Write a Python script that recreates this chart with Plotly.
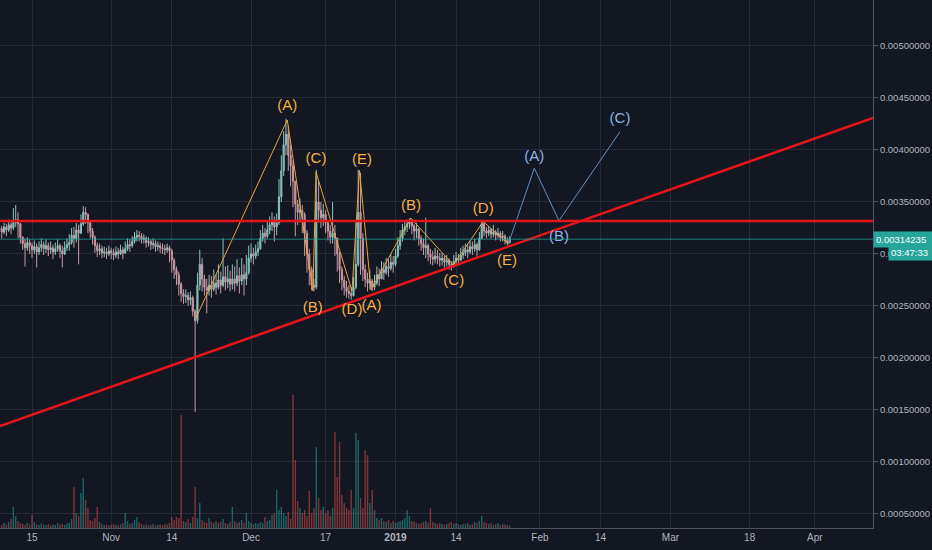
import pandas as pd
import plotly.graph_objects as go

# 12h candles, prices in units of 1e-6 BTC
candle_start = "2018-10-08 00:00"
first_open = 3250

closes = [
    3240, 3210, 3260, 3230, 3280, 3250, 3300, 3330, 3290, 3160,
    3100, 3060, 3110, 3080, 3040, 3070, 3020, 3060, 3090, 3050,
    3080, 3040, 3060, 3020, 3050, 3080, 3030, 3000, 3060, 3090,
    3110, 3180, 3150, 3230, 3200, 3290, 3400, 3380, 3300, 3220,
    3160, 3080, 3030, 3050, 3010, 3020, 3000, 3030, 3010, 2990,
    3020, 3000, 3040, 3010, 3050, 3090, 3080, 3120, 3160, 3180,
    3170, 3140, 3150, 3110, 3120, 3090, 3100, 3070, 3080, 3060,
    3050, 3040, 3060, 3030, 2940, 2850, 2800, 2710, 2620, 2590,
    2600, 2560, 2580, 2450, 2360, 2700, 2900, 2760, 2680, 2650,
    2700, 2660, 2720, 2680, 2750, 2700, 2780, 2730, 2760, 2710,
    2760, 2720, 2790, 2740, 2800, 2760, 2820, 2960, 3000, 2980,
    3020, 3050, 3150, 3200, 3170, 3230, 3280, 3320, 3260, 3300,
    3550, 3800, 4050, 4150, 3950, 3850, 3700, 3480, 3400, 3420,
    3380, 3200, 3000, 2850, 2700, 2680, 3500, 3420, 3350, 3380,
    3300, 3220, 3160, 3200, 3150, 3000, 2850, 2750, 2680, 2640,
    2620, 2600, 2680, 2900, 3400, 3150, 2850, 2760, 2720, 2740,
    2680, 2720, 2800, 2760, 2850, 2820, 2880, 2860, 2920, 2900,
    2980, 3080, 3150, 3230, 3260, 3290, 3310, 3270, 3220, 3240,
    3150, 3100, 3060, 3080, 3000, 2970, 2950, 2980, 2960, 2940,
    2960, 2920, 2940, 2900, 2880, 2930, 2960, 2940, 2990, 3010,
    3040, 3020, 3070, 3050, 3090, 3040, 3150, 3290, 3220, 3200,
    3230, 3190, 3210, 3180, 3200, 3160, 3170, 3130, 3110, 3142.35,
]
highs = [
    3290, 3270, 3300, 3290, 3330, 3310, 3440, 3470, 3400, 3300,
    3170, 3150, 3160, 3140, 3110, 3130, 3100, 3120, 3150, 3120,
    3140, 3110, 3120, 3090, 3110, 3140, 3100, 3080, 3120, 3150,
    3190, 3250, 3260, 3300, 3280, 3380, 3460, 3450, 3390, 3310,
    3250, 3180, 3110, 3100, 3080, 3070, 3060, 3080, 3060, 3050,
    3070, 3060, 3090, 3070, 3120, 3150, 3140, 3170, 3210, 3230,
    3220, 3200, 3190, 3170, 3160, 3140, 3150, 3130, 3120, 3110,
    3100, 3090, 3100, 3080, 3050, 2960, 2880, 2830, 2730, 2660,
    2660, 2630, 2640, 2600, 2470, 2820, 3040, 2960, 2800, 2760,
    2800, 2790, 2850, 2800, 2900, 2830, 3150, 2880, 2890, 2840,
    2900, 2880, 2950, 2870, 2960, 2900, 2990, 3080, 3100, 3060,
    3090, 3120, 3230, 3280, 3250, 3310, 3360, 3400, 3360, 3390,
    3720, 3950, 4180, 4300, 4230, 4050, 3900, 3700, 3520, 3530,
    3470, 3400, 3230, 3050, 2880, 2760, 3810, 3700, 3500, 3480,
    3420, 3310, 3280, 3500, 3280, 3160, 3020, 2880, 2790, 2740,
    2700, 2680, 2780, 3300, 3810, 3780, 3200, 2900, 2820, 2850,
    2760, 2800, 2880, 2860, 2930, 2920, 2960, 2950, 3000, 2980,
    3050, 3160, 3230, 3290, 3320, 3330, 3340, 3330, 3290, 3300,
    3250, 3180, 3150, 3350, 3100, 3050, 3030, 3060, 3040, 3010,
    3010, 2980, 2990, 2960, 2930, 2990, 3020, 3000, 3060, 3080,
    3100, 3090, 3130, 3120, 3150, 3110, 3210, 3320, 3310, 3260,
    3270, 3250, 3280, 3230, 3250, 3220, 3220, 3190, 3160, 3170,
]
lows = [
    3180, 3150, 3190, 3170, 3210, 3190, 3230, 3260, 3150, 3100,
    3040, 2880, 3030, 3000, 2960, 3000, 2870, 2990, 3020, 2990,
    3010, 2980, 3000, 2950, 2990, 3020, 2960, 2870, 2990, 3030,
    3030, 3090, 3060, 3110, 2900, 3190, 3270, 3290, 3200, 3150,
    3090, 3010, 2970, 2990, 2960, 2970, 2950, 2980, 2950, 2940,
    2960, 2950, 2990, 2950, 3000, 3030, 3020, 3060, 3100, 3120,
    3120, 3100, 3100, 3060, 3070, 3040, 3050, 3020, 3030, 3010,
    3000, 2990, 3010, 2920, 2820, 2760, 2700, 2600, 2540, 2520,
    2530, 2500, 2510, 2400, 1480, 2330, 2650, 2640, 2600, 2430,
    2600, 2580, 2640, 2610, 2660, 2620, 2680, 2650, 2670, 2640,
    2660, 2640, 2690, 2620, 2700, 2600, 2700, 2800, 2920, 2900,
    2950, 2980, 3040, 3120, 3100, 3150, 3190, 3220, 3120, 3180,
    3280, 3500, 3750, 3950, 3800, 3650, 3450, 3170, 3280, 3300,
    3200, 2980, 2820, 2700, 2650, 2640, 2660, 3300, 3250, 3270,
    3200, 3130, 3100, 3100, 2980, 2830, 2720, 2650, 2600, 2580,
    2570, 2560, 2590, 2660, 2880, 2800, 2740, 2680, 2640, 2660,
    2640, 2650, 2700, 2690, 2760, 2750, 2800, 2780, 2840, 2820,
    2880, 2960, 3040, 3120, 3180, 3210, 3240, 3190, 3130, 3150,
    3080, 3030, 2990, 2960, 2930, 2900, 2890, 2910, 2900, 2880,
    2890, 2870, 2880, 2850, 2840, 2870, 2900, 2890, 2930, 2950,
    2980, 2960, 3000, 2990, 3020, 2970, 3030, 3140, 3170, 3150,
    3170, 3150, 3160, 3130, 3150, 3120, 3120, 3090, 3080, 3100,
]
volumes = [
    40, 30, 50, 35, 60, 90, 210, 120, 70, 50,
    40, 30, 50, 35, 130, 60, 40, 30, 45, 35,
    30, 40, 25, 35, 30, 50, 35, 40, 30, 45,
    50, 90, 410, 150, 120, 350, 500, 280, 200, 80,
    70, 100, 210, 60, 40, 30, 35, 25, 30, 40,
    30, 25, 35, 50, 150, 70, 40, 50, 80, 110,
    60, 40, 30, 35, 25, 30, 40, 25, 30, 35,
    30, 40, 35, 50, 110, 80, 110, 100, 1130, 70,
    60, 90, 50, 110, 410, 100, 250, 80, 60, 50,
    100, 60, 50, 70, 50, 60, 90, 50, 40, 60,
    210, 70, 50, 60, 80, 50, 150, 70, 50, 40,
    50, 40, 60, 50, 110, 70, 80, 130, 150, 380,
    180, 210, 150, 120, 160, 90, 1330, 680, 270, 200,
    150, 180, 120, 370, 150, 200, 810, 300, 180, 210,
    150, 180, 120, 200, 960, 510, 860, 330, 250, 200,
    180, 380, 200, 950, 880, 300, 200, 780, 730, 250,
    380, 180, 100, 80, 100, 70, 60, 80, 50, 70,
    50, 60, 70, 80, 100, 180, 120, 70, 60, 50,
    40, 50, 60, 70, 50, 200, 60, 50, 40, 50,
    40, 30, 40, 50, 60, 40, 50, 40, 30, 40,
    40, 50, 30, 40, 60, 50, 70, 120, 60, 50,
    40, 50, 30, 40, 50, 30, 40, 35, 30, 25,
]

# drawings (prices in 1e-6 BTC)
resistance_level = 3317
last_price = 3142.35
trend_dates = ["2018-10-08 03:00", "2019-04-13 11:00"]
trend_prices = [1346, 4308]

wave_dates = ["2018-11-19 04:30", "2018-12-08 18:45", "2018-12-14 07:00", "2018-12-14 22:30",
              "2018-12-22 16:00", "2018-12-24 06:45", "2018-12-26 17:45", "2019-01-04 06:15",
              "2019-01-13 09:40", "2019-01-19 20:10", "2019-01-25 05:00"]
wave_prices = [2385, 4288, 2644, 3788, 2644, 3803, 2654, 3346, 2894, 3311, 3096]
wave_labels = ["(A)", "(C)", "(E)", "(B)", "(D)", "(A)", "(B)", "(D)", "(C)", "(E)"]
wave_label_dates = ["2018-12-08 18:45", "2018-12-14 22:30", "2018-12-24 19:00", "2018-12-14 06:00",
                    "2018-12-22 16:00", "2018-12-26 20:00", "2019-01-04 08:00", "2019-01-19 20:10",
                    "2019-01-13 12:00", "2019-01-24 22:00"]
wave_label_prices = [4416, 3914, 3904, 2478, 2462, 2493, 3455, 3430, 2734, 2926]

proj_dates = ["2019-01-25 05:00", "2019-01-30 19:00", "2019-02-05 02:00", "2019-02-18 04:20"]
proj_prices = [3096, 3824, 3320, 4176]
proj_labels = ["(A)", "(B)", "(C)"]
proj_label_dates = ["2019-01-30 19:00", "2019-02-05 02:00", "2019-02-18 04:20"]
proj_label_prices = [3930, 3157, 4298]

x_tick_dates = ["2018-10-15", "2018-11-01", "2018-11-14", "2018-12-01", "2018-12-17", "2019-01-01",
                "2019-01-14", "2019-02-01", "2019-02-14", "2019-03-01", "2019-03-18", "2019-04-01"]
x_tick_text = ["15", "Nov", "14", "Dec", "17", "<b>2019</b>", "14", "Feb", "14", "Mar", "18", "Apr"]
y_tick_prices = [0.0005, 0.001, 0.0015, 0.002, 0.0025, 0.003, 0.0035, 0.004, 0.0045, 0.005]

U = 1e-6
BG = "#131722"
GRID = "#262a36"
TXT = "#b2b5be"
ORANGE = "#eea43a"
BLUE = "#5f8fc6"

times = pd.date_range(candle_start, periods=len(closes), freq="12h")
opens = [first_open] + closes[:-1]
o = [v * U for v in opens]
c = [v * U for v in closes]
h = [v * U for v in highs]
l = [v * U for v in lows]
vol_colors = ["rgba(38,166,154,0.55)" if cc >= oo else "rgba(239,83,80,0.5)"
              for oo, cc in zip(opens, closes)]

fig = go.Figure()

fig.add_trace(go.Bar(x=times, y=volumes, marker_color=vol_colors, marker_line_width=0,
                     yaxis="y2", width=12 * 3600 * 1000 * 0.6, hoverinfo="skip"))

fig.add_trace(go.Candlestick(
    x=times, open=o, high=h, low=l, close=c,
    increasing=dict(line=dict(color="#8cc2bb", width=1), fillcolor="#5fb3a6"),
    decreasing=dict(line=dict(color="#c99aa3", width=1), fillcolor="#d97a8b"),
    whiskerwidth=0,
))

fig.add_trace(go.Scatter(x=trend_dates, y=[v * U for v in trend_prices], mode="lines",
                         line=dict(color="#e8141c", width=2.5), hoverinfo="skip"))

fig.add_trace(go.Scatter(x=wave_dates, y=[v * U for v in wave_prices], mode="lines",
                         line=dict(color=ORANGE, width=1), hoverinfo="skip"))
fig.add_trace(go.Scatter(x=proj_dates, y=[v * U for v in proj_prices], mode="lines",
                         line=dict(color=BLUE, width=1), hoverinfo="skip"))

fig.add_trace(go.Scatter(x=wave_label_dates, y=[v * U for v in wave_label_prices], mode="text",
                         text=wave_labels, textposition="middle center",
                         textfont=dict(color="#f4b142", size=15, family="Liberation Sans"),
                         hoverinfo="skip"))
fig.add_trace(go.Scatter(x=proj_label_dates, y=[v * U for v in proj_label_prices], mode="text",
                         text=proj_labels, textposition="middle center",
                         textfont=dict(color="#8db3e2", size=15, family="Liberation Sans"),
                         hoverinfo="skip"))

# resistance and last-price lines
fig.add_shape(type="line", xref="paper", x0=0, x1=1, y0=resistance_level * U, y1=resistance_level * U,
              line=dict(color="#e8141c", width=2.5))
fig.add_shape(type="line", xref="paper", x0=0, x1=1, y0=last_price * U, y1=last_price * U,
              line=dict(color="rgba(38,166,154,0.75)", width=1))

fig.add_annotation(xref="paper", x=1.0, y=last_price * U, xanchor="left", yanchor="middle",
                   text="0.00314235", showarrow=False, bgcolor="#26a69a", borderpad=2,
                   font=dict(color="white", size=9.5, family="Liberation Sans"), width=55, align="left")
fig.add_annotation(xref="paper", x=1.0, xshift=15, y=(last_price - 126) * U, xanchor="left",
                   yanchor="middle", text="03:47:33", showarrow=False, bgcolor="#26a69a", borderpad=2,
                   font=dict(color="white", size=9.5, family="Liberation Sans"), width=40, align="left")

fig.update_layout(
    width=932, height=550,
    margin=dict(l=0, r=59, t=0, b=22),
    paper_bgcolor=BG, plot_bgcolor=BG,
    showlegend=False,
    xaxis=dict(
        type="date", range=["2018-10-08 03:07", "2019-04-13 11:20"],
        rangeslider=dict(visible=False),
        tickvals=x_tick_dates, ticktext=x_tick_text,
        tickfont=dict(color=TXT, size=10, family="Liberation Sans"),
        showgrid=True, gridcolor=GRID, gridwidth=1,
        showline=True, linecolor="#50535e", linewidth=1,
        ticks="", zeroline=False,
    ),
    yaxis=dict(
        side="right", range=[0.000365, 0.005442],
        tickvals=y_tick_prices, ticktext=[f"{v:.8f}" for v in y_tick_prices],
        tickfont=dict(color=TXT, size=9.5, family="Liberation Sans"),
        showgrid=True, gridcolor=GRID, gridwidth=1,
        showline=True, linecolor="#50535e", linewidth=1,
        ticks="outside", ticklen=4, tickcolor="#50535e", zeroline=False,
    ),
    yaxis2=dict(overlaying="y", range=[0, 5280], visible=False, showgrid=False),
)

fig.write_html("out.html", config={"displayModeBar": False},
               post_script="document.body.style.margin='0';document.body.style.overflow='hidden';")
